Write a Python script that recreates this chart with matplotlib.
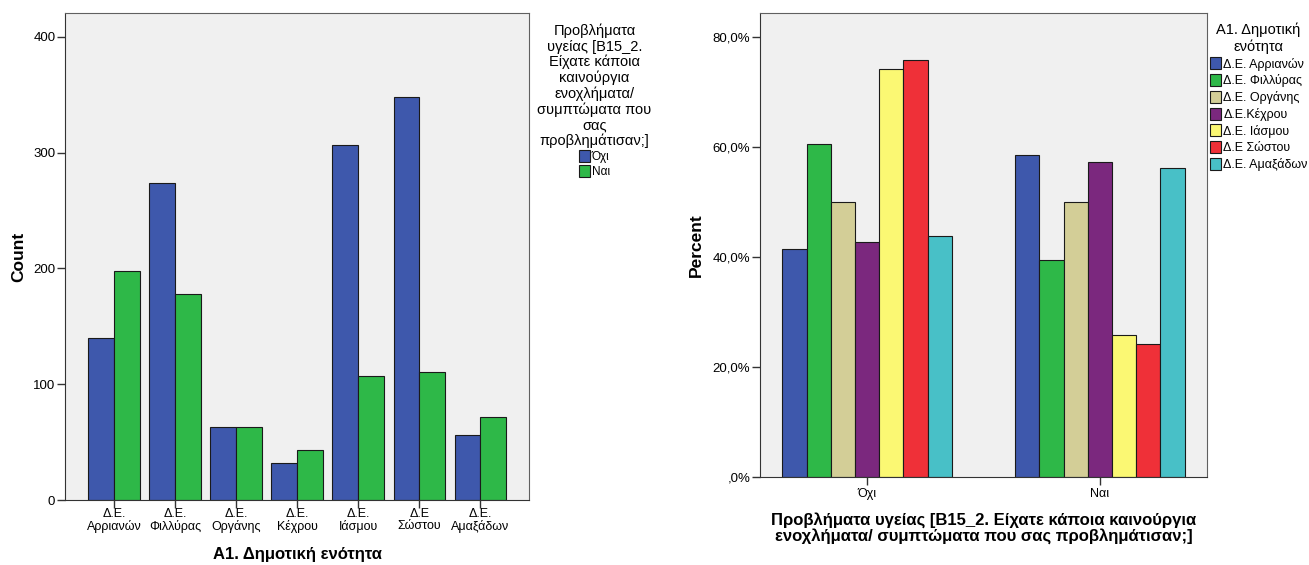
import matplotlib
matplotlib.use("Agg")
import matplotlib.pyplot as plt
import numpy as np

plt.rcParams['font.family'] = ['Liberation Sans', 'DejaVu Sans']

# counts per municipal unit (left chart)
units_tick = ['Δ.Ε.\nΑρριανών', 'Δ.Ε.\nΦιλλύρας', 'Δ.Ε.\nΟργάνης', 'Δ.Ε.\nΚέχρου',
              'Δ.Ε.\nΙάσμου', 'Δ.Ε\nΣώστου', 'Δ.Ε.\nΑμαξάδων']
units_legend = ['Δ.Ε. Αρριανών', 'Δ.Ε. Φιλλύρας', 'Δ.Ε. Οργάνης', 'Δ.Ε.Κέχρου',
                'Δ.Ε. Ιάσμου', 'Δ.Ε Σώστου', 'Δ.Ε. Αμαξάδων']
answers = ['Όχι', 'Ναι']
count_no = [140, 274, 63, 32, 307, 348, 56]
count_yes = [198, 178, 63, 43, 107, 111, 72]

# percent within each unit (right chart)
pct_no = [41.4, 60.6, 50.0, 42.7, 74.2, 75.8, 43.8]
pct_yes = [58.6, 39.4, 50.0, 57.3, 25.8, 24.2, 56.2]

ans_colors = ['#3e58ac', '#2eb848']
unit_colors = ['#3e58ac', '#2eb848', '#d3ce97', '#7b287e', '#fbf873', '#ef3038', '#48c0c7']
bg = '#f0f0f0'
edge = '#1a1a1a'
spine_col = '#606060'

fig = plt.figure(figsize=(13.09, 5.65), dpi=100)

# ---- left: counts ----
ax1 = fig.add_axes([0.0497, 0.115, 0.3545, 0.862])
ax1.set_facecolor(bg)
x = np.arange(len(units_tick))
w = 0.42
b1 = ax1.bar(x - w / 2, count_no, w, color=ans_colors[0], edgecolor=edge, linewidth=0.8, label=answers[0])
b2 = ax1.bar(x + w / 2, count_yes, w, color=ans_colors[1], edgecolor=edge, linewidth=0.8, label=answers[1])
ax1.set_xlim(-0.8, 6.8)
ax1.set_ylim(0, 420.7)
ax1.set_yticks([0, 100, 200, 300, 400])
ax1.set_xticks(x)
ax1.set_xticklabels(units_tick, fontsize=9, linespacing=0.95)
ax1.tick_params(axis='y', labelsize=9.5, length=6, width=1, pad=1, color='#333333')
ax1.tick_params(axis='x', length=6, width=1, pad=0, color='#333333')
ax1.set_ylabel('Count', fontsize=12.5, fontweight='bold', labelpad=5)
ax1.set_xlabel('A1. Δημοτική ενότητα', fontsize=12, fontweight='bold', labelpad=10)
for s in ax1.spines.values():
    s.set_color(spine_col)
ax1.spines['left'].set_color('#333333')
ax1.spines['bottom'].set_color('#333333')

leg1 = ax1.legend(handles=[b1, b2], title='Προβλήματα\nυγείας [B15_2.\nΕίχατε κάποια\nκαινούργια\nενοχλήματα/\nσυμπτώματα που\nσας\nπροβλημάτισαν;]',
                  loc='upper left', bbox_to_anchor=(1.0, 0.995), frameon=False, fontsize=8.5,
                  title_fontsize=10.5, handlelength=0.9, handleheight=1.2, handletextpad=0.15,
                  labelspacing=0.15, borderaxespad=0.3)
leg1.get_title().set_multialignment('center')
leg1.get_title().set_linespacing(1.12)

# ---- right: percent ----
ax2 = fig.add_axes([0.5806, 0.1558, 0.3415, 0.821])
ax2.set_facecolor(bg)
xg = np.arange(len(answers))
bw = 0.104
handles = []
for i in range(len(units_legend)):
    vals = [pct_no[i], pct_yes[i]]
    h = ax2.bar(xg + (i - 3) * bw, vals, bw, color=unit_colors[i], edgecolor=edge,
                linewidth=0.8, label=units_legend[i])
    handles.append(h)
ax2.set_xlim(-0.46, 1.46)
ax2.set_ylim(0, 84.4)
ax2.set_yticks([0, 20, 40, 60, 80])
ax2.set_yticklabels([',0%', '20,0%', '40,0%', '60,0%', '80,0%'])
ax2.set_xticks(xg)
ax2.set_xticklabels(answers, fontsize=9)
ax2.tick_params(axis='y', labelsize=9.5, length=6, width=1, pad=1, color='#333333')
ax2.tick_params(axis='x', length=6, width=1, pad=2, color='#333333')
ax2.set_ylabel('Percent', fontsize=12.5, fontweight='bold', labelpad=6)
ax2.set_xlabel('Προβλήματα υγείας [B15_2. Είχατε κάποια καινούργια\nενοχλήματα/ συμπτώματα που σας προβλημάτισαν;]',
               fontsize=12, fontweight='bold', labelpad=9, linespacing=1.0)
for s in ax2.spines.values():
    s.set_color(spine_col)
ax2.spines['left'].set_color('#333333')
ax2.spines['bottom'].set_color('#333333')

leg2 = ax2.legend(handles=handles, title='A1. Δημοτική\nενότητα',
                  loc='upper left', bbox_to_anchor=(1.0, 0.985), frameon=False, fontsize=9,
                  title_fontsize=10.5, handlelength=0.9, handleheight=1.1, handletextpad=0.2,
                  labelspacing=0.28, borderaxespad=0.0, borderpad=0.2)
leg2.get_title().set_multialignment('center')

fig.savefig('out.png', dpi=100)
